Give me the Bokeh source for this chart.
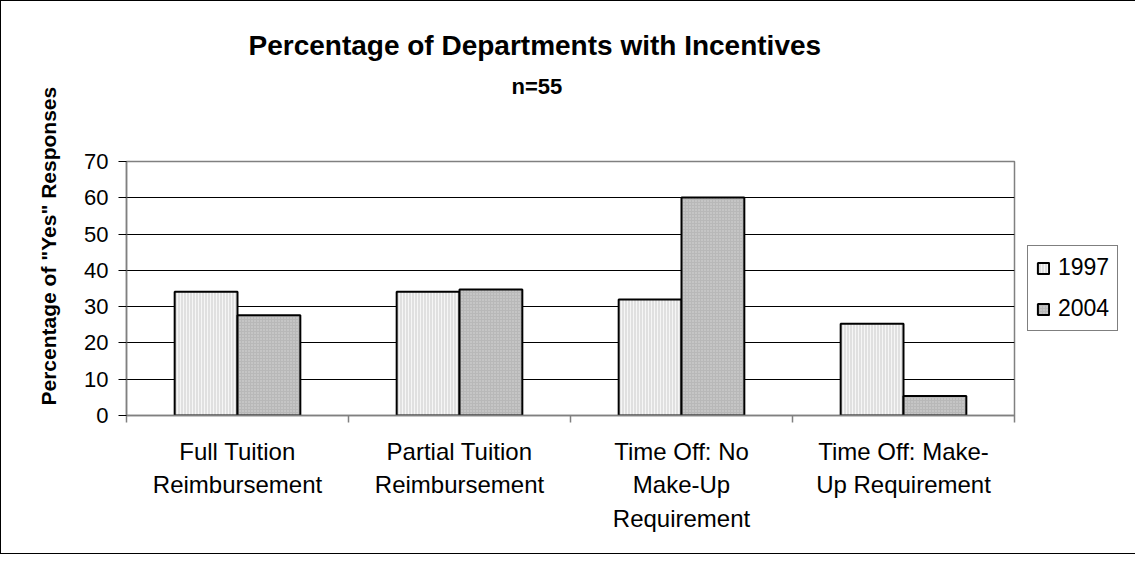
from bokeh.plotting import figure
from bokeh.models import Range1d, FixedTicker, Legend, LegendItem, ColumnDataSource, Title
from bokeh.embed import file_html
from bokeh.resources import INLINE

# ---- data ----
categories = ["Full Tuition Reimbursement", "Partial Tuition Reimbursement",
              "Time Off: No Make-Up Requirement", "Time Off: Make-Up Requirement"]
category_labels = ["Full Tuition\nReimbursement", "Partial Tuition\nReimbursement",
                   "Time Off: No\nMake-Up\nRequirement", "Time Off: Make-\nUp Requirement"]
years = ["1997", "2004"]
values_1997 = [34.1, 34.1, 32.0, 25.3]
values_2004 = [27.6, 34.7, 60.1, 5.4]
y_ticks = [0, 10, 20, 30, 40, 50, 60, 70]
title_text = "Percentage of Departments with Incentives"
subtitle_text = "n=55"
y_title = 'Percentage of "Yes" Responses'

FONT = "Liberation Sans"
n = len(categories)
centers = [i + 0.5 for i in range(n)]
bar_w = 0.283

src97 = ColumnDataSource(dict(x=[c - bar_w / 2 for c in centers], top=values_1997, cat=categories))
src04 = ColumnDataSource(dict(x=[c + bar_w / 2 for c in centers], top=values_2004, cat=categories))

p = figure(width=1119, height=552, frame_width=888, frame_height=254,
           x_range=Range1d(0, n), y_range=Range1d(0, y_ticks[-1]),
           output_backend="svg", toolbar_location=None, title=None,
           min_border_left=125, min_border_right=0, min_border_top=160, min_border_bottom=138,
           background_fill_color="white", border_fill_color="white",
           outline_line_color="#808080", outline_line_width=1.5)
p.styles = {"border-left": "1px solid black", "border-top": "1px solid black",
            "border-bottom": "1px solid black"}

fill97 = "#e0e0e0"
fill04 = "#b8b8b8"
r97 = p.vbar(x="x", top="top", width=bar_w, bottom=0, source=src97,
             fill_color=fill97, line_color="black", line_width=2,
             hatch_pattern="vertical_line", hatch_color="#f6f6f6", hatch_scale=3, hatch_weight=1)
r04 = p.vbar(x="x", top="top", width=bar_w, bottom=0, source=src04,
             fill_color=fill04, line_color="black", line_width=2,
             hatch_pattern="dot", hatch_color="#d8d8d8", hatch_scale=3, hatch_weight=1)

legend = Legend(items=[LegendItem(label=years[0], renderers=[r97]),
                       LegendItem(label=years[1], renderers=[r04])],
                location="center_left", border_line_color="black", border_line_width=1,
                padding=8, spacing=14, glyph_width=14, glyph_height=14, label_standoff=8,
                label_text_font=FONT, label_text_font_size="23px", label_text_color="black",
                label_height=27, margin=13, background_fill_color="white",
                background_fill_alpha=1)
p.add_layout(legend, "right")

# grid
p.xgrid.visible = False
p.ygrid.grid_line_color = "black"
p.ygrid.grid_line_width = 1

# y axis
p.yaxis.ticker = FixedTicker(ticks=y_ticks)
p.yaxis.axis_line_color = "#808080"
p.yaxis.axis_line_width = 1.5
p.yaxis.major_tick_line_color = "black"
p.yaxis.major_tick_out = 8
p.yaxis.major_tick_in = 0
p.yaxis.minor_tick_line_color = None
p.yaxis.major_label_standoff = 10
p.yaxis.major_label_text_font = FONT
p.yaxis.major_label_text_font_size = "22px"
p.yaxis.major_label_text_color = "black"

# x axis
p.xaxis.ticker = FixedTicker(ticks=centers, minor_ticks=list(range(n + 1)))
p.xaxis.major_label_overrides = {c: lab for c, lab in zip(centers, category_labels)}
p.xaxis.axis_line_color = "#808080"
p.xaxis.axis_line_width = 1.5
p.xaxis.major_tick_out = 0
p.xaxis.major_tick_in = 0
p.xaxis.minor_tick_out = 7
p.xaxis.minor_tick_in = 0
p.xaxis.minor_tick_line_color = "#808080"
p.xaxis.minor_tick_line_width = 1.5
p.xaxis.major_label_standoff = 15
p.xaxis.major_label_text_font = FONT
p.xaxis.major_label_text_font_size = "24px"
p.xaxis.major_label_text_line_height = 1.25
p.xaxis.major_label_text_color = "black"

# titles (above: nearest panel first)
p.add_layout(Title(text=" ", text_font_size="1px", standoff=55), "above")
p.add_layout(Title(text=subtitle_text, align="left", offset=385, vertical_align="middle",
                   standoff=8, text_font=FONT, text_font_size="22px", text_font_style="bold",
                   text_color="black"), "above")
p.add_layout(Title(text=title_text, align="left", offset=122, vertical_align="middle",
                   standoff=14, text_font=FONT, text_font_size="28px", text_font_style="bold",
                   text_color="black"), "above")
p.add_layout(Title(text=y_title, align="left", offset=10, vertical_align="middle", standoff=42,
                   text_font=FONT, text_font_size="21px", text_font_style="bold",
                   text_color="black"), "left")

open("out.html", "w").write(file_html(p, INLINE))
